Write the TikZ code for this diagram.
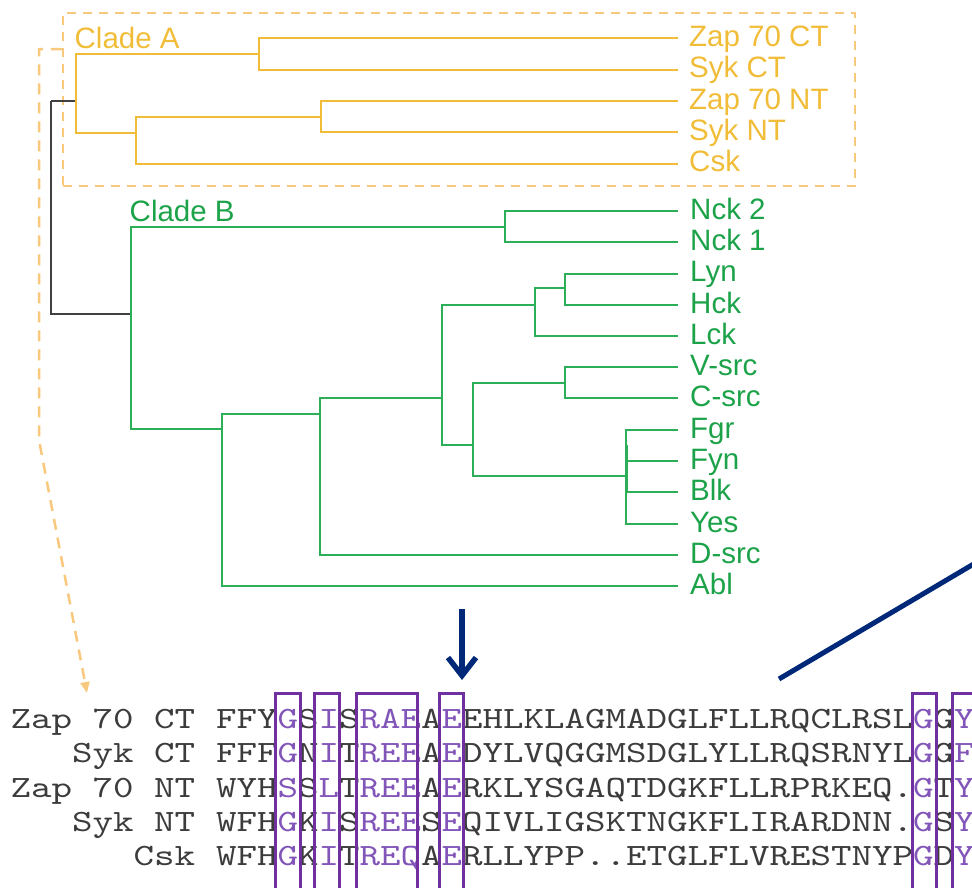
\documentclass[tikz,border=0pt]{standalone}
\usepackage{fontspec}
\setmainfont{Liberation Sans}
\newfontfamily\seqfont{lmmono10-regular.otf}[FakeStretch=1.26]
\usetikzlibrary{arrows.meta,calc}

\definecolor{cladeA}{RGB}{241,189,56}
\definecolor{dashA}{RGB}{248,200,125}
\definecolor{cladeB}{RGB}{28,163,74}
\definecolor{lineB}{RGB}{45,175,90}
\definecolor{navyc}{RGB}{0,40,120}
\definecolor{pboxc}{RGB}{112,48,160}
\definecolor{ptext}{RGB}{130,85,185}
\definecolor{seqgray}{RGB}{60,60,60}

\newcommand{\pp}[1]{\textcolor{ptext}{#1}}

\begin{document}
\begin{tikzpicture}[x=1pt,y=-1pt,
  brA/.style={draw=cladeA,line width=2pt},
  brB/.style={draw=lineB,line width=2pt},
  brR/.style={draw=black!75,line width=2pt},
  labA/.style={font=\fontsize{29.5pt}{34pt}\selectfont,text=cladeA,inner sep=0pt,anchor=base west},
  labB/.style={font=\fontsize{29.5pt}{34pt}\selectfont,text=cladeB,inner sep=0pt,anchor=base west},
  seqlab/.style={font=\seqfont\fontsize{31pt}{34pt}\selectfont,text=seqgray,inner sep=0pt,anchor=base east},
  seqtxt/.style={font=\seqfont\fontsize{31pt}{34pt}\selectfont,text=seqgray,inner sep=0pt,anchor=base west},
  colbox/.style={draw=pboxc,line width=3pt},
  navyln/.style={draw=navyc,line width=5.5pt},
  dashbox/.style={draw=dashA,line width=2.5pt,dash pattern=on 9pt off 7pt},
  dashconn/.style={draw=dashA,line width=2.5pt,dash pattern=on 11pt off 8pt},
]
\useasboundingbox (0,0) rectangle (972,887);

% ---------- Clade A dashed frame ----------
\node[dashbox,minimum width=792pt,minimum height=173pt,inner sep=0pt] (boxA) at (459,99.5) {};

% ---------- leaf ends ----------
\coordinate (lZapCT) at (678,38);
\coordinate (lSykCT) at (678,69.5);
\coordinate (lZapNT) at (678,101);
\coordinate (lSykNT) at (678,132);
\coordinate (lCsk)   at (678,163.5);
\coordinate (lNck2)  at (678,211);
\coordinate (lNck1)  at (678,242);
\coordinate (lLyn)   at (678,273.5);
\coordinate (lHck)   at (678,305);
\coordinate (lLck)   at (678,336);
\coordinate (lVsrc)  at (678,367);
\coordinate (lCsrc)  at (678,398);
\coordinate (lFgr)   at (678,430);
\coordinate (lFyn)   at (678,461);
\coordinate (lBlk)   at (678,492);
\coordinate (lYes)   at (678,524);
\coordinate (lDsrc)  at (678,555);
\coordinate (lAbl)   at (678,586);

% ---------- internal nodes ----------
\coordinate (root) at (50.5,101);
\coordinate (A)  at (76,101);
\coordinate (A1) at (259,54);
\coordinate (A2) at (136,133);
\coordinate (A3) at (321,117);
\coordinate (B)  at (131,314);
\coordinate (B1) at (505,227);
\coordinate (B2) at (222,429);
\coordinate (B3) at (320,414);
\coordinate (B4) at (442,398);
\coordinate (B5) at (535,305);
\coordinate (B6) at (473,445);
\coordinate (B7) at (565,288);
\coordinate (B8) at (565,383);
\coordinate (B9) at (626,476);

% ---------- branches ----------
\draw[brR] (root) |- (A);
\draw[brR] (root) |- (B);

\draw[brA] (A) |- (A1);
\draw[brA] (A) |- (A2);
\draw[brA] (A1) |- (lZapCT);
\draw[brA] (A1) |- (lSykCT);
\draw[brA] (A2) |- (A3);
\draw[brA] (A2) |- (lCsk);
\draw[brA] (A3) |- (lZapNT);
\draw[brA] (A3) |- (lSykNT);

\draw[brB] (B) |- (B1);
\draw[brB] (B) |- (B2);
\draw[brB] (B1) |- (lNck2);
\draw[brB] (B1) |- (lNck1);
\draw[brB] (B2) |- (B3);
\draw[brB] (B2) |- (lAbl);
\draw[brB] (B3) |- (B4);
\draw[brB] (B3) |- (lDsrc);
\draw[brB] (B4) |- (B5);
\draw[brB] (B4) |- (B6);
\draw[brB] (B5) |- (B7);
\draw[brB] (B5) |- (lLck);
\draw[brB] (B7) |- (lLyn);
\draw[brB] (B7) |- (lHck);
\draw[brB] (B6) |- (B8);
\draw[brB] (B6) |- (B9);
\draw[brB] (B8) |- (lVsrc);
\draw[brB] (B8) |- (lCsrc);
\draw[brB] (B9) |- (lFgr);
\draw[brB] (B9) |- (lFyn);
\draw[brB] (B9) |- (lBlk);
\draw[brB] (B9) |- (lYes);
\draw[brB,line width=3pt] ($(B9)+(0,-31)$) -- ($(B9)+(0,16)$);

% ---------- labels ----------
\node[labA] (cladeAlab) at (74.5,48) {Clade A};
\node[labB] (cladeBlab) at (129.5,221.5) {Clade B};

\node[labA] (tZapCT) at ($(lZapCT)+(11,8)$) {Zap 70 CT};
\node[labA] (tSykCT) at ($(lSykCT)+(11,8)$) {Syk CT};
\node[labA] (tZapNT) at ($(lZapNT)+(11,8)$) {Zap 70 NT};
\node[labA] (tSykNT) at ($(lSykNT)+(11,8)$) {Syk NT};
\node[labA] (tCsk)   at ($(lCsk)+(11,8)$)   {Csk};
\node[labB] (tNck2)  at ($(lNck2)+(12,8.5)$) {Nck 2};
\node[labB] (tNck1)  at ($(lNck1)+(12,8.5)$) {Nck 1};
\node[labB] (tLyn)   at ($(lLyn)+(12,8)$)  {Lyn};
\node[labB] (tHck)   at ($(lHck)+(12,8)$)  {Hck};
\node[labB] (tLck)   at ($(lLck)+(12,8)$)  {Lck};
\node[labB] (tVsrc)  at ($(lVsrc)+(12,8)$) {V-src};
\node[labB] (tCsrc)  at ($(lCsrc)+(12,8)$) {C-src};
\node[labB] (tFgr)   at ($(lFgr)+(12,8)$)  {Fgr};
\node[labB] (tFyn)   at ($(lFyn)+(12,8)$)  {Fyn};
\node[labB] (tBlk)   at ($(lBlk)+(12,8)$)  {Blk};
\node[labB] (tYes)   at ($(lYes)+(12,8)$)  {Yes};
\node[labB] (tDsrc)  at ($(lDsrc)+(12,8)$) {D-src};
\node[labB] (tAbl)   at ($(lAbl)+(12,8)$)  {Abl};

% ---------- dashed connector to alignment ----------
\coordinate (kA) at (39,49);
\coordinate (kB) at (39,440);
\coordinate (dTip) at (87,693);
\draw[dashconn,-{Triangle[length=11pt,width=9pt]}] (boxA.west |- kA) -- (kA) -- (kB) -- (dTip);

% ---------- navy arrow and line ----------
\coordinate (arrTop) at (462,609);
\coordinate (arrTip) at (462,680);
\draw[navyln,-{Straight Barb[length=18pt,width=28pt]}] (arrTop) -- (arrTip);
\coordinate (diagA) at (779,679);
\coordinate (diagB) at (995,551.4);
\draw[navyln,line width=5pt] (diagA) -- (diagB);

% ---------- alignment ----------
\node[seqlab] (r1l) at (195.3,728.3) {Zap 70 CT};
\node[seqlab] (r2l) at (195.3,762.7) {Syk CT};
\node[seqlab] (r3l) at (195.3,797.1) {Zap 70 NT};
\node[seqlab] (r4l) at (195.3,831.5) {Syk NT};
\node[seqlab] (r5l) at (195.3,865.9) {Csk};

\node[seqtxt] (r1s) at (215.8,728.3) {FFY\pp{G}S\pp{I}S\pp{RAE}A\pp{E}EHLKLAGMADGLFLLRQCLRSL\pp{G}G\pp{Y}};
\node[seqtxt] (r2s) at (215.8,762.7) {FFF\pp{G}N\pp{I}T\pp{REE}A\pp{E}DYLVQGGMSDGLYLLRQSRNYL\pp{G}G\pp{F}};
\node[seqtxt] (r3s) at (215.8,797.1) {WYH\pp{S}S\pp{L}T\pp{REE}A\pp{E}RKLYSGAQTDGKFLLRPRKEQ.\pp{G}T\pp{Y}};
\node[seqtxt] (r4s) at (215.8,831.5) {WFH\pp{G}K\pp{I}S\pp{REE}S\pp{E}QIVLIGSKTNGKFLIRARDNN.\pp{G}S\pp{Y}};
\node[seqtxt] (r5s) at (215.8,865.9) {WFH\pp{G}K\pp{I}T\pp{REQ}A\pp{E}RLLYPP..ETGLFLVRESTNYP\pp{G}D\pp{Y}};

% ---------- conserved-column boxes ----------
\draw[colbox] (275,693) rectangle (300,900);
\draw[colbox] (314,693) rectangle (339,900);
\draw[colbox] (356,693) rectangle (417,900);
\draw[colbox] (439,693) rectangle (463,900);
\draw[colbox] (912,693) rectangle (936,900);
\draw[colbox] (952,693) rectangle (980,900);
\end{tikzpicture}
\end{document}
